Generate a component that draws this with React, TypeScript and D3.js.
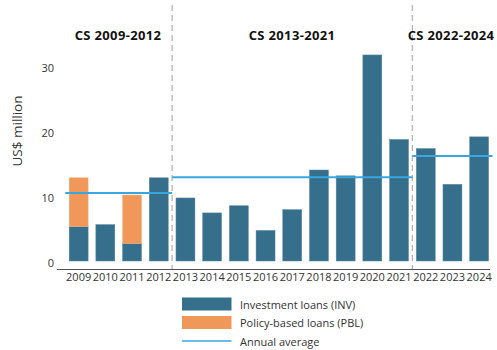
import React from "react";
import * as d3 from "d3";

const years = ["2009","2010","2011","2012","2013","2014","2015","2016","2017","2018","2019","2020","2021","2022","2023","2024"];
const invValues = [5.3, 5.6, 2.7, 12.8, 9.7, 7.4, 8.5, 4.7, 7.9, 14.0, 13.1, 31.7, 18.7, 17.3, 11.8, 19.1];
const pblValues = [7.5, 0, 7.45, 0, 0, 0, 0, 0, 0, 0, 0, 0, 0, 0, 0, 0];
const periodLabels = ["CS 2009-2012", "CS 2013-2021", "CS 2022-2024"];
const periodStart = ["2009", "2013", "2022"];
const periodEnd = ["2012", "2021", "2024"];
const periodAverages = [10.45, 12.9, 16.15];
const yTicks = [0, 10, 20, 30];
const legendLabels = ["Investment loans (INV)", "Policy-based loans (PBL)", "Annual average"];

const INV = "#356f8c";
const PBL = "#f0975a";
const AVG = "#3aa6e0";
const FONT = "'Open Sans', 'Noto Sans', sans-serif";

export default function App() {
  const W = 497, H = 350;
  const x = d3.scaleBand<string>().domain(years).range([65.3, 492.5]).paddingInner(0.29).paddingOuter(0.145);
  const y = d3.scaleLinear().domain([0, 32]).range([261, 261 - 6.5 * 32]);
  const step = x.step();
  const half = (step - x.bandwidth()) / 2;
  const left = (yr: string) => (x(yr) as number) - half;
  const right = (yr: string) => (x(yr) as number) + x.bandwidth() + half;
  const boundaries = [right("2012"), right("2021")];
  const axisY = 269.5;
  const labelX = [118, 292, 451];

  return (
    <svg width={W} height={H} style={{ position: "absolute", left: 0, top: 0, fontFamily: FONT }}>
      {boundaries.map((bx, i) => (
        <line key={i} x1={bx} x2={bx} y1={5} y2={axisY + 1} stroke="#b5b5b5" strokeWidth={1.3} strokeDasharray="6,4" />
      ))}
      {years.map((yr, i) => (
        <g key={yr}>
          <rect x={x(yr)} width={x.bandwidth()} y={y(invValues[i])} height={y(0) - y(invValues[i])} fill={INV} stroke="#5a8aa3" strokeWidth={0.5} />
          {pblValues[i] > 0 && (
            <rect x={x(yr)} width={x.bandwidth()} y={y(invValues[i] + pblValues[i])} height={y(invValues[i]) - y(invValues[i] + pblValues[i])} fill={PBL} stroke="#f3b184" strokeWidth={0.5} />
          )}
        </g>
      ))}
      {periodAverages.map((v, i) => (
        <line key={i} x1={left(periodStart[i])} x2={right(periodEnd[i])} y1={y(v)} y2={y(v)} stroke={AVG} strokeWidth={2} />
      ))}
      <line x1={57} x2={490} y1={axisY} y2={axisY} stroke="#555" strokeWidth={1} />
      {years.map((yr) => (
        <text key={yr} x={(x(yr) as number) + x.bandwidth() / 2} y={276} textAnchor="middle" dominantBaseline="central" fontSize={11} fill="#333">{yr}</text>
      ))}
      {yTicks.map((t) => (
        <text key={t} x={54} y={y(t) + 1} textAnchor="end" dominantBaseline="central" fontSize={11} fill="#333">{t}</text>
      ))}
      <text transform={`translate(17,131) rotate(-90)`} textAnchor="middle" dominantBaseline="central" fontSize={13.5} fill="#333">US$ million</text>
      {periodLabels.map((lab, i) => (
        <text key={lab} x={labelX[i]} y={35} textAnchor="middle" dominantBaseline="central" fontSize={13} letterSpacing={0.35} fontWeight="bold" fill="#111">{lab}</text>
      ))}
      <rect x={182} y={297.5} width={49.5} height={13} fill={INV} />
      <rect x={182} y={316} width={49.5} height={13} fill={PBL} />
      <line x1={182} x2={231.5} y1={341} y2={341} stroke={AVG} strokeWidth={1.5} />
      {legendLabels.map((lab, i) => (
        <text key={lab} x={240} y={304 + i * 18.5} dominantBaseline="central" fontSize={11} fill="#333">{lab}</text>
      ))}
    </svg>
  );
}
